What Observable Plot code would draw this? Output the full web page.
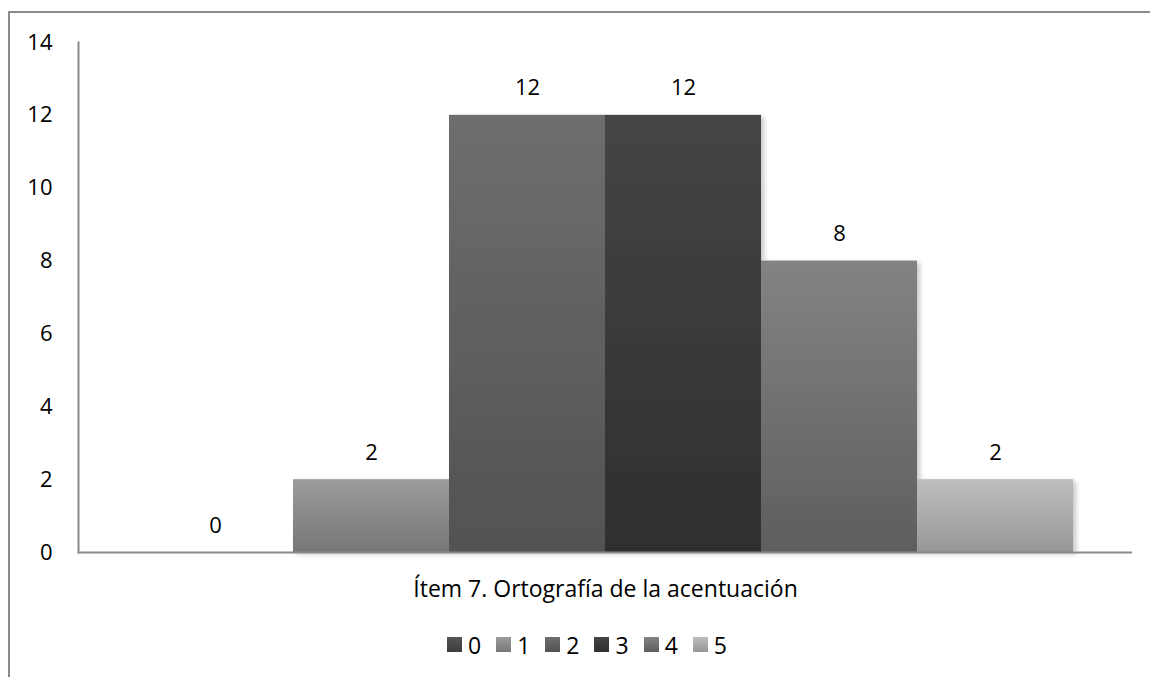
<!DOCTYPE html>
<html>
<head>
<meta charset="utf-8">
<script src="https://cdn.jsdelivr.net/npm/d3@7"></script>
<script src="https://cdn.jsdelivr.net/npm/@observablehq/plot@0.6"></script>
<style>
  html, body { margin: 0; padding: 0; background: #fff; }
  #wrap { position: relative; width: 1150px; height: 677px; overflow: hidden; background: #fff;
          font-family: "Open Sans", "Noto Sans", sans-serif; }
  #border { position: absolute; left: 8px; top: 11px; width: 1170px; height: 700px;
            border: 2px solid #8a8a8a; box-sizing: border-box; }
  #chart { position: absolute; left: 0; top: 0; }
  #legend { position: absolute; left: 447px; top: 632px; height: 25px; display: flex; align-items: center;
            font-size: 23px; color: #000; white-space: nowrap; }
  #legend .item { display: flex; align-items: center; margin-right: 15px; }
  #legend .sw { display: inline-block; width: 15px; height: 15px; margin-right: 6px; }
</style>
</head>
<body>
<div id="wrap">
  <div id="border"></div>
  <div id="chart"></div>
  <div id="legend"></div>
</div>
<script>
// ---- data ----
const category = "Ítem 7. Ortografía de la acentuación";
const series = ["0", "1", "2", "3", "4", "5"];
const values = [0, 2, 12, 12, 8, 2];
const yTicks = [0, 2, 4, 6, 8, 10, 12, 14];

// ---- styles ----
const gradTop =    ["#555555", "#9c9c9c", "#6e6e6e", "#454545", "#838383", "#bdbdbd"];
const gradBottom = ["#3c3c3c", "#777777", "#525252", "#2f2f2f", "#5e5e5e", "#979797"];
const axisColor = "#8a8a8a";
const font = '"Open Sans", "Noto Sans", sans-serif';

const data = series.map((s, i) => ({series: s, value: values[i], category}));

const plot = Plot.plot({
  width: 1150,
  height: 612,
  marginLeft: 78,
  marginRight: 18,
  marginTop: 42,
  marginBottom: 60,
  style: {fontFamily: font, fontSize: "22px", color: "#000", background: "transparent"},
  x: {domain: series, range: [135, 1074], padding: 0, axis: null},
  y: {domain: [0, 14], axis: null},
  color: {type: "identity"},
  marks: [
    Plot.barY(data, {x: "series", y: "value", fill: d => `url(#grad${d.series})`}),
    Plot.ruleY([0], {stroke: axisColor, strokeWidth: 2}),
    Plot.frame({anchor: "left", stroke: axisColor, strokeWidth: 2}),
    Plot.axisY({ticks: yTicks, tickSize: 0, tickPadding: 26, fontSize: 22, label: null, tickFormat: d => String(d)}),
    Plot.text(data, {x: "series", y: "value", text: d => String(d.value), lineAnchor: "bottom", dy: -20, fontSize: 22, fill: "#000"}),
    Plot.text([category], {frameAnchor: "bottom", dy: 44, text: d => d, fontSize: 23, fill: "#000"})
  ]
});

// gradients + shadow
const svg = d3.select(plot);
const defs = svg.insert("defs", ":first-child");
series.forEach((s, i) => {
  const g = defs.append("linearGradient").attr("id", "grad" + s)
    .attr("x1", 0).attr("y1", 0).attr("x2", 0).attr("y2", 1);
  g.append("stop").attr("offset", "0%").attr("stop-color", gradTop[i]);
  g.append("stop").attr("offset", "100%").attr("stop-color", gradBottom[i]);
});
const f = defs.append("filter").attr("id", "shadow").attr("x", "-10%").attr("y", "-10%").attr("width", "130%").attr("height", "130%");
f.append("feDropShadow").attr("dx", 3).attr("dy", 2).attr("stdDeviation", 2.5)
  .attr("flood-color", "#000").attr("flood-opacity", 0.22);
svg.select('g[aria-label="bar"]').attr("filter", "url(#shadow)");

document.getElementById("chart").appendChild(plot);

// legend
const legend = d3.select("#legend");
series.forEach((s, i) => {
  const it = legend.append("span").attr("class", "item");
  it.append("span").attr("class", "sw")
    .style("background", `linear-gradient(${gradTop[i]}, ${gradBottom[i]})`);
  it.append("span").text(s);
});
</script>
</body>
</html>
